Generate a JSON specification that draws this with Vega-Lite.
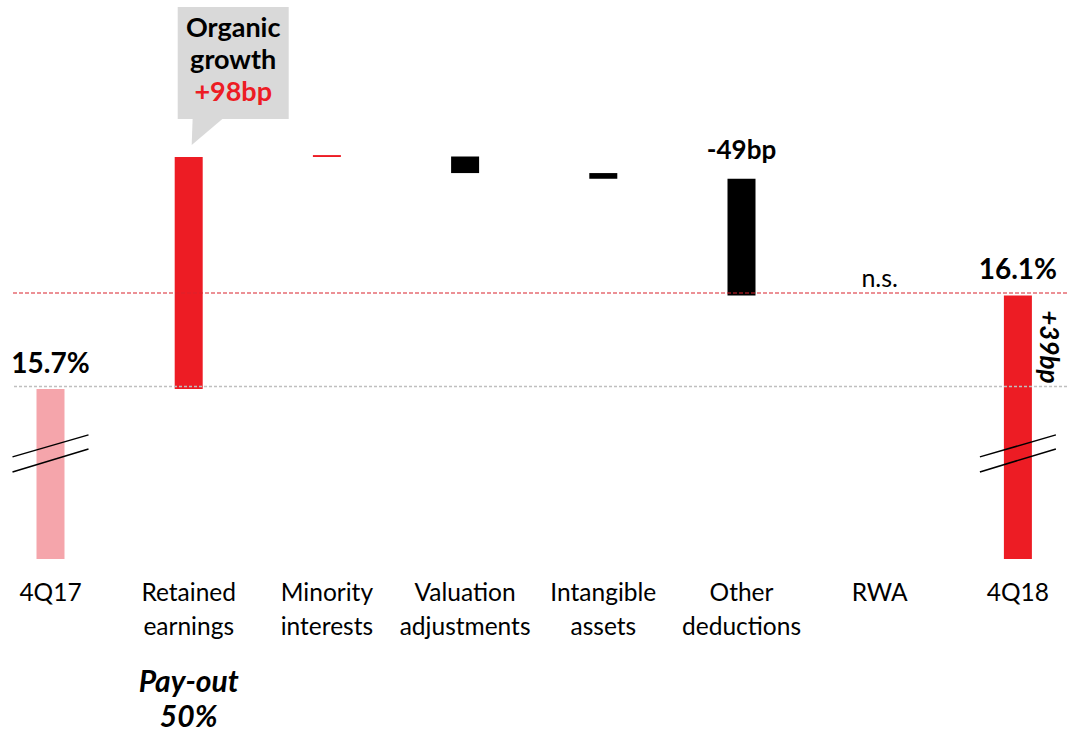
{
  "$schema": "https://vega.github.io/schema/vega-lite/v6.json",
  "width": 1055,
  "height": 559,
  "autosize": "none",
  "padding": {"left": 12, "top": 0, "right": 0, "bottom": 173},
  "background": "white",
  "config": {"view": {"stroke": null}, "font": "Lato", "text": {"font": "Lato"}},
  "datasets": {
    "bars": [
      {"cat": "4Q17", "lo": 14.982, "hi": 15.70, "kind": "base"},
      {"cat": "Retained earnings", "lo": 15.70, "hi": 16.68, "kind": "up"},
      {"cat": "Minority interests", "lo": 16.68, "hi": 16.688, "kind": "up"},
      {"cat": "Valuation adjustments", "lo": 16.682, "hi": 16.612, "kind": "down"},
      {"cat": "Intangible assets", "lo": 16.612, "hi": 16.588, "kind": "down"},
      {"cat": "Other deductions", "lo": 16.588, "hi": 16.095, "kind": "down"},
      {"cat": "RWA", "lo": 16.095, "hi": 16.095, "kind": "down"},
      {"cat": "4Q18", "lo": 14.982, "hi": 16.095, "kind": "total"}
    ],
    "levels": [
      {"cat": "4Q17", "v": 15.70, "text": "15.7%"},
      {"cat": "4Q18", "v": 16.095, "text": "16.1%"}
    ],
    "delta": [
      {"cat": "Other deductions", "v": 16.588, "text": "-49bp"}
    ],
    "ns": [
      {"cat": "RWA", "v": 16.095, "text": "n.s."}
    ],
    "net": [
      {"cat": "4Q18", "v": 15.878, "text": "+39bp"}
    ],
    "callout": [
      {"cat": "Retained earnings", "top": 17.313, "bottom": 16.84, "tail": 16.786}
    ],
    "calloutText": [
      {"cat": "Retained earnings", "v": 17.187, "text": "Organic", "kind": "black"},
      {"cat": "Retained earnings", "v": 17.052, "text": "growth", "kind": "black"},
      {"cat": "Retained earnings", "v": 16.916, "text": "+98bp", "kind": "red"}
    ],
    "breaks": [
      {"cat": "4Q17", "v": 15.428},
      {"cat": "4Q18", "v": 15.428}
    ],
    "payout": [
      {"cat": "Retained earnings", "v": 14.42, "text": "Pay-out"},
      {"cat": "Retained earnings", "v": 14.273, "text": "50%"}
    ]
  },
  "resolve": {"scale": {"x": "shared", "y": "shared"}},
  "layer": [
    {
      "data": {"name": "bars"},
      "mark": {"type": "bar", "width": 28},
      "encoding": {
        "x": {
          "field": "cat", "type": "nominal", "sort": null,
          "scale": {
            "domain": ["4Q17", "Retained earnings", "Minority interests", "Valuation adjustments", "Intangible assets", "Other deductions", "RWA", "4Q18"],
            "range": [-30.6, 1075],
            "paddingInner": 0, "paddingOuter": 0
          },
          "axis": {
            "title": null, "domain": false, "ticks": false, "grid": false,
            "labelAngle": 0, "labelFont": "Lato", "labelFontSize": 24.5,
            "labelColor": "black", "labelPadding": 22, "labelLineHeight": 34,
            "labelLimit": 300, "labelOverlap": false, "labelBaseline": "top",
            "labelExpr": "split(datum.label, ' ')"
          }
        },
        "y": {
          "field": "lo", "type": "quantitative",
          "scale": {"domain": [14.982, 17.343], "zero": false, "nice": false},
          "axis": null
        },
        "y2": {"field": "hi"},
        "color": {
          "field": "kind", "type": "nominal",
          "scale": {"domain": ["base", "up", "down", "total"], "range": ["#f5a5ab", "#ed1c24", "#000000", "#ed1c24"]},
          "legend": null
        }
      }
    },
    {
      "data": {"values": [{"v": 15.70}]},
      "mark": {"type": "rule", "color": "#bfbfbf", "strokeWidth": 1.5, "strokeDash": [3, 2], "yOffset": -2.5},
      "encoding": {"y": {"field": "v", "type": "quantitative"}}
    },
    {
      "data": {"values": [{"v": 16.095}]},
      "mark": {"type": "rule", "color": "#d9232d", "strokeWidth": 1.2, "strokeDash": [4, 2], "yOffset": -2.5},
      "encoding": {"y": {"field": "v", "type": "quantitative"}}
    },
    {
      "data": {"name": "callout"},
      "mark": {"type": "bar", "width": 111, "xOffset": 44.5, "color": "#d9d9d9"},
      "encoding": {
        "x": {"field": "cat", "type": "nominal"},
        "y": {"field": "top", "type": "quantitative"},
        "y2": {"field": "bottom"}
      }
    },
    {
      "data": {"name": "callout"},
      "mark": {"type": "point", "filled": true, "opacity": 1, "color": "#d9d9d9", "size": 1089, "xOffset": 19.5,
               "shape": "M-1,0.79L-0.94,-0.9L1,-0.9Z"},
      "encoding": {
        "x": {"field": "cat", "type": "nominal"},
        "y": {"field": "tail", "type": "quantitative"}
      }
    },
    {
      "data": {"name": "calloutText"},
      "transform": [{"filter": "datum.kind === 'black'"}],
      "mark": {"type": "text", "font": "Lato", "fontSize": 27, "fontWeight": "bold", "xOffset": 44.5, "align": "center", "baseline": "alphabetic", "color": "#000000"},
      "encoding": {
        "x": {"field": "cat", "type": "nominal"},
        "y": {"field": "v", "type": "quantitative"},
        "text": {"field": "text"}
      }
    },
    {
      "data": {"name": "calloutText"},
      "transform": [{"filter": "datum.kind === 'red'"}],
      "mark": {"type": "text", "font": "Lato", "fontSize": 27, "fontWeight": "bold", "xOffset": 44.5, "align": "center", "baseline": "alphabetic", "color": "#ed1c24"},
      "encoding": {
        "x": {"field": "cat", "type": "nominal"},
        "y": {"field": "v", "type": "quantitative"},
        "text": {"field": "text"}
      }
    },
    {
      "data": {"name": "levels"},
      "mark": {"type": "text", "font": "Lato", "fontSize": 28, "fontWeight": "bold", "align": "center", "baseline": "alphabetic", "dy": -16, "color": "black"},
      "encoding": {
        "x": {"field": "cat", "type": "nominal"},
        "y": {"field": "v", "type": "quantitative"},
        "text": {"field": "text"}
      }
    },
    {
      "data": {"name": "delta"},
      "mark": {"type": "text", "font": "Lato", "fontSize": 26, "fontWeight": "bold", "align": "center", "baseline": "alphabetic", "dy": -20, "color": "black"},
      "encoding": {
        "x": {"field": "cat", "type": "nominal"},
        "y": {"field": "v", "type": "quantitative"},
        "text": {"field": "text"}
      }
    },
    {
      "data": {"name": "ns"},
      "mark": {"type": "text", "font": "Lato", "fontSize": 25, "align": "center", "baseline": "alphabetic", "dy": -8, "color": "black"},
      "encoding": {
        "x": {"field": "cat", "type": "nominal"},
        "y": {"field": "v", "type": "quantitative"},
        "text": {"field": "text"}
      }
    },
    {
      "data": {"name": "net"},
      "mark": {"type": "text", "font": "Lato", "fontSize": 26, "fontWeight": "bold", "fontStyle": "italic", "align": "center", "baseline": "middle", "angle": 90, "xOffset": 30, "color": "black"},
      "encoding": {
        "x": {"field": "cat", "type": "nominal"},
        "y": {"field": "v", "type": "quantitative"},
        "text": {"field": "text"}
      }
    },
    {
      "data": {"name": "breaks"},
      "mark": {"type": "point", "filled": false, "opacity": 1, "color": "black", "strokeWidth": 1.5, "size": 5776,
               "shape": "M-1,0.092L1,-0.487M-1,0.487L1,-0.118"},
      "encoding": {
        "x": {"field": "cat", "type": "nominal"},
        "y": {"field": "v", "type": "quantitative"}
      }
    },
    {
      "data": {"name": "payout"},
      "mark": {"type": "text", "font": "Lato", "fontSize": 30, "fontWeight": "bold", "fontStyle": "italic", "align": "center", "baseline": "alphabetic", "color": "black"},
      "encoding": {
        "x": {"field": "cat", "type": "nominal"},
        "y": {"field": "v", "type": "quantitative"},
        "text": {"field": "text"}
      }
    }
  ]
}
